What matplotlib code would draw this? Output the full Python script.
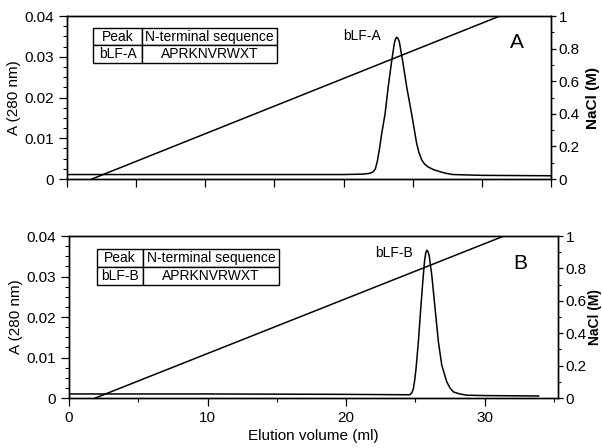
import matplotlib
matplotlib.use('Agg')
import matplotlib.pyplot as plt
from matplotlib.ticker import MultipleLocator, FuncFormatter

plt.rcParams['font.family'] = ['Liberation Sans', 'DejaVu Sans']

# peak A (elution volume ml, A280)
vol_a = [0, 10, 20, 21.4, 21.9, 22.15, 22.3, 22.45, 22.6, 22.75, 23.0, 23.23, 23.48, 23.67, 23.76,
         23.84, 23.93, 24.03, 24.27, 24.56, 24.92, 25.28, 25.45, 25.65, 25.85, 26.1, 26.5, 26.97,
         27.4, 27.9, 30, 35]
abs_a = [0.0011, 0.0011, 0.0011, 0.0012, 0.0014, 0.0018, 0.0025, 0.0045, 0.0075, 0.011, 0.016,
         0.0227, 0.029, 0.0333, 0.0344, 0.0348, 0.0345, 0.0337, 0.029, 0.0227, 0.016, 0.0088,
         0.0065, 0.0047, 0.0037, 0.003, 0.0023, 0.0018, 0.0014, 0.0011, 0.0009, 0.0008]

# peak B
vol_b = [0, 10, 20, 24.6, 24.75, 24.86, 24.96, 25.05, 25.22, 25.39, 25.54, 25.66, 25.75, 25.83,
         25.92, 26.0, 26.19, 26.43, 26.67, 26.91, 27.27, 27.5, 27.75, 28.2, 28.7, 30, 33.9]
abs_b = [0.001, 0.001, 0.0009, 0.0008, 0.0013, 0.0023, 0.0045, 0.0072, 0.0138, 0.022, 0.0287,
         0.0336, 0.0358, 0.0365, 0.0361, 0.0352, 0.0303, 0.022, 0.0138, 0.0081, 0.004, 0.0025,
         0.0015, 0.001, 0.0007, 0.0006, 0.0005]

# NaCl gradient
grad_vol_a = [1.8, 31.3]
grad_vol_b = [1.9, 31.4]
grad_nacl = [0, 1]

seq_header = ['Peak', 'N-terminal sequence']
seq_a = ['bLF-A', 'APRKNVRWXT']
seq_b = ['bLF-B', 'APRKNVRWXT']

fig = plt.figure(figsize=(6.02, 4.48), dpi=100)
ax_top = fig.add_axes([0.1113, 0.6004, 0.804, 0.3638])
ax_bot = fig.add_axes([0.1146, 0.1116, 0.8123, 0.3616])

panels = [
    (ax_top, vol_a, abs_a, grad_vol_a, seq_a, 'bLF-A', (21.3, 0.0351), 'A', (32.5, 0.0336), 35.0,
     [0.054, 0.712, 0.38, 0.215], 0.266, 1.072, 11),
    (ax_bot, vol_b, abs_b, grad_vol_b, seq_b, 'bLF-B', (23.5, 0.0358), 'B', (32.6, 0.0333), 35.3,
     [0.057, 0.697, 0.372, 0.222], 0.253, 1.062, 10),
]

for ax, vol, absb, gvol, seq, plabel, ppos, letter, lpos, xmax, tbbox, c0, rx, rfs in panels:
    ax.plot(vol, absb, color='black', lw=1.1)
    ax.set_xlim(0, xmax)
    ax.set_ylim(0, 0.04)
    ax.yaxis.set_major_locator(MultipleLocator(0.01))
    ax.yaxis.set_minor_locator(MultipleLocator(0.0025))
    ax.yaxis.set_major_formatter(FuncFormatter(lambda v, p: '%g' % round(v, 4)))
    ax.set_ylabel('A (280 nm)', fontsize=11, labelpad=2)
    ax.tick_params(axis='both', which='major', direction='out', length=6, width=0.9, labelsize=11)
    ax.tick_params(axis='both', which='minor', direction='out', length=3, width=0.8)
    for s in ax.spines.values():
        s.set_linewidth(1.0)

    ax2 = ax.twinx()
    ax2.plot(gvol, grad_nacl, color='black', lw=1.1)
    ax2.set_ylim(0, 1)
    ax2.yaxis.set_major_locator(MultipleLocator(0.2))
    ax2.yaxis.set_minor_locator(MultipleLocator(0.1))
    ax2.yaxis.set_major_formatter(FuncFormatter(lambda v, p: '%g' % round(v, 2)))
    ax2.set_ylabel('NaCl (M)', fontsize=rfs, fontweight='bold')
    ax2.yaxis.set_label_coords(rx, 0.5)
    ax2.tick_params(axis='y', which='major', direction='out', length=3.6, width=0.9,
                    labelsize=11, pad=2)
    ax2.tick_params(axis='y', which='minor', direction='out', length=2.5, width=0.8)
    for s in ax2.spines.values():
        s.set_linewidth(1.0)

    ax.text(ppos[0], ppos[1], plabel, fontsize=10, ha='center', va='center')
    ax.text(lpos[0], lpos[1], letter, fontsize=15, ha='center', va='center')

    tb = ax.table(cellText=[seq_header, seq], cellLoc='center',
                  colWidths=[c0, 1 - c0], bbox=tbbox)
    tb.auto_set_font_size(False)
    tb.set_fontsize(10)
    for cell in tb.get_celld().values():
        cell.set_linewidth(1.0)
        cell.PAD = 0.02

ax_top.xaxis.set_major_locator(MultipleLocator(5))
ax_top.tick_params(axis='x', labelbottom=False)
ax_bot.xaxis.set_major_locator(MultipleLocator(10))
ax_bot.xaxis.set_minor_locator(MultipleLocator(5))
ax_bot.set_xlabel('Elution volume (ml)', fontsize=11, labelpad=3)

fig.savefig('out.png', dpi=100)
